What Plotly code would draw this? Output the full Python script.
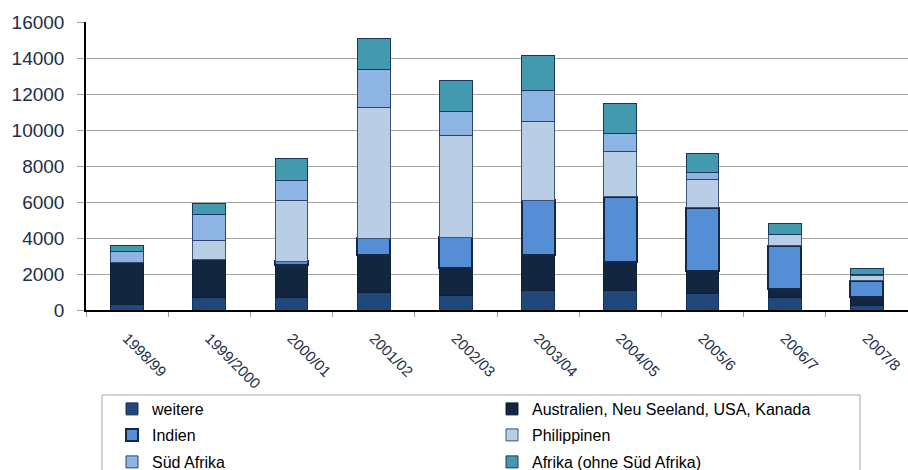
import plotly.graph_objects as go

categories = ["1998/99", "1999/2000", "2000/01", "2001/02", "2002/03",
              "2003/04", "2004/05", "2005/6", "2006/7", "2007/8"]

weitere     = [330, 700, 700, 960, 830, 1070, 1070, 920, 690, 240]
australien  = [2320, 2110, 1800, 2100, 1480, 1990, 1580, 1260, 500, 460]
indien      = [0, 0, 200, 920, 1730, 3050, 3650, 3500, 2370, 930]
philippinen = [0, 1040, 3400, 7280, 5630, 4370, 2530, 1580, 660, 280]
sued_afrika = [610, 1450, 1100, 2110, 1370, 1690, 950, 370, 0, 60]
afrika      = [330, 630, 1200, 1700, 1700, 1960, 1680, 1040, 590, 310]

W, H = 908, 470
L, R, T, B = 86, 0, 22, 160
ph = H - T - B
pw = W - L - R

def py(px_y):
    return (H - B - px_y) / ph

def px(px_x):
    return (px_x - L) / pw

# (name, values, fill, outline, outline width, legend id, text x px, row y px)
series = [
    ("weitere", weitere, "#21487a", "#17325a", 1, "legend", 152, 409),
    ("Australien, Neu Seeland, USA, Kanada", australien, "#122640", "#0e1e33", 1, "legend2", 532, 409),
    ("Indien", indien, "#558ed5", "#14294a", 2, "legend3", 152, 435),
    ("Philippinen", philippinen, "#b9cde5", "#3b5578", 1, "legend4", 532, 435),
    ("Süd Afrika", sued_afrika, "#8eb4e3", "#2a4670", 1, "legend5", 152, 462),
    ("Afrika (ohne Süd Afrika)", afrika, "#4399ae", "#17375e", 1, "legend6", 532, 462),
]

fig = go.Figure()
legends = {}
for name, vals, col, lcol, lw, lg, tx, ty in series:
    fig.add_trace(go.Bar(
        x=categories, y=vals, name=name,
        marker=dict(color=col, line=dict(color=lcol, width=lw)),
        width=0.4, legend=lg,
    ))
    legends[lg] = dict(
        orientation="v",
        font=dict(family="Liberation Sans, Arial, sans-serif", size=16, color="#000000"),
        bgcolor="rgba(0,0,0,0)", borderwidth=0,
        xanchor="left", yanchor="middle", x=px(tx - 40), y=py(ty),
    )

fig.update_layout(
    width=W, height=H,
    margin=dict(l=L, r=R, t=T, b=B, pad=0, autoexpand=False),
    barmode="stack",
    plot_bgcolor="white", paper_bgcolor="white",
    font=dict(family="Liberation Sans, Arial, sans-serif", color="#1c2e48"),
    showlegend=True,
    **legends,
    xaxis=dict(
        type="category", tickangle=45, tickfont=dict(size=15, color="#1c2e48"),
        showline=True, linecolor="black", linewidth=1.5,
        ticks="outside", ticklen=5, tickcolor="#a0a0a0", tickson="boundaries",
        ticklabelstandoff=12, automargin=False,
        showgrid=False, fixedrange=True,
    ),
    yaxis=dict(
        range=[0, 16000], dtick=2000, tickformat="d",
        tickfont=dict(size=19, color="#1c2e48"),
        showline=True, linecolor="black", linewidth=1.5,
        ticks="outside", ticklen=7, tickcolor="#a0a0a0", ticklabelstandoff=9,
        automargin=False,
        showgrid=True, gridcolor="#a6a6a6", gridwidth=1, zeroline=False,
    ),
    shapes=[dict(type="rect", xref="paper", yref="paper",
                 x0=px(102), x1=px(860), y0=py(500), y1=py(395),
                 line=dict(color="#a6a6a6", width=1), fillcolor="rgba(0,0,0,0)", layer="above")],
)

fig.write_html("out.html")
